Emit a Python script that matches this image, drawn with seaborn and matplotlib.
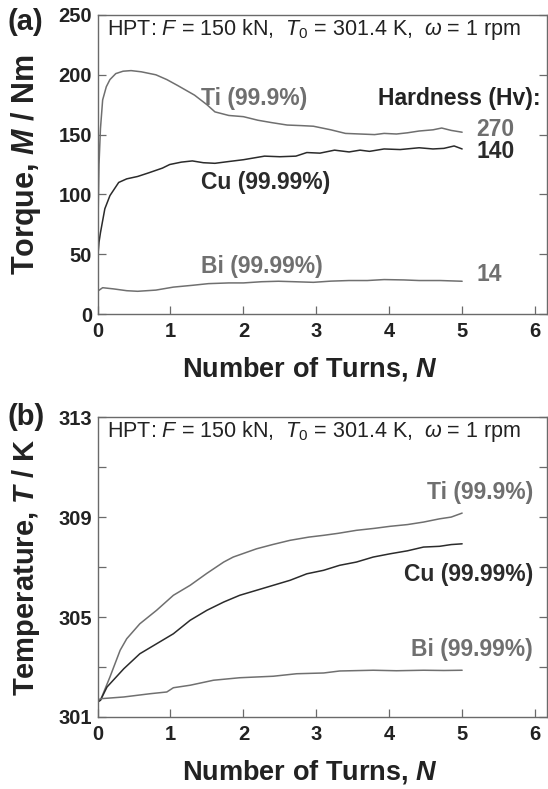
import matplotlib
matplotlib.use("Agg")
import matplotlib.pyplot as plt
import seaborn as sns
import pandas as pd

# ---- panel (a): torque vs number of turns ----
turns_ti_a = [0, 0.01, 0.02, 0.04, 0.07, 0.12, 0.17, 0.25, 0.35, 0.46, 0.6, 0.8, 0.95, 1.1,
              1.33, 1.5, 1.61, 1.8, 2.0, 2.2, 2.39, 2.6, 2.8, 2.96, 3.2, 3.4, 3.6, 3.8, 3.93,
              4.1, 4.25, 4.41, 4.6, 4.72, 4.85, 5.0]
torque_ti = [45, 90, 125, 155, 179, 190, 196, 201, 203, 203.5, 202.5, 200, 196, 191,
             183, 175, 169, 166, 165, 162, 160, 158, 157.5, 157, 154, 151, 150.5, 150, 151,
             150.5, 151.5, 153, 154, 155.5, 153.5, 152]

turns_cu_a = [0, 0.02, 0.04, 0.07, 0.1, 0.17, 0.29, 0.4, 0.55, 0.7, 0.89, 0.99, 1.15, 1.3,
              1.45, 1.61, 1.8, 2.0, 2.29, 2.5, 2.72, 2.87, 3.05, 3.25, 3.45, 3.6, 3.73, 3.93,
              4.15, 4.41, 4.6, 4.75, 4.89, 5.0]
torque_cu = [45, 60, 68, 78, 88, 99, 110, 113, 115, 118, 122, 125, 127, 128,
             126.5, 126, 127.5, 129, 132, 131.5, 132, 135, 134.5, 137, 135.5, 137, 136, 138,
             137.5, 139, 138, 138.5, 140.5, 138]

turns_bi_a = [0, 0.07, 0.22, 0.4, 0.55, 0.8, 1.04, 1.3, 1.52, 1.8, 2.0, 2.25, 2.48, 2.7,
              2.96, 3.2, 3.45, 3.7, 3.93, 4.2, 4.41, 4.7, 5.0]
torque_bi = [19, 22, 21, 19.5, 19, 20, 22.5, 24, 25.4, 26, 26, 27, 27.4, 27,
             26.5, 27.5, 28, 28, 28.8, 28.5, 28, 28, 27.4]

# ---- panel (b): temperature vs number of turns ----
turns_ti_b = [0, 0.04, 0.17, 0.31, 0.4, 0.58, 0.81, 1.04, 1.27, 1.5, 1.73, 1.86, 2.18,
              2.4, 2.64, 2.9, 3.1, 3.3, 3.55, 3.8, 4.01, 4.25, 4.47, 4.69, 4.85, 5.0]
temp_ti = [301.6, 301.67, 302.6, 303.67, 304.13, 304.73, 305.27, 305.87, 306.27, 306.75,
           307.2, 307.4, 307.73, 307.9, 308.07, 308.2, 308.27, 308.35, 308.47, 308.55,
           308.63, 308.7, 308.8, 308.93, 309.0, 309.16]

turns_cu_b = [0, 0.04, 0.13, 0.36, 0.58, 0.81, 1.04, 1.27, 1.5, 1.73, 1.95, 2.18, 2.41,
              2.64, 2.87, 3.1, 3.32, 3.55, 3.78, 4.01, 4.25, 4.47, 4.69, 4.85, 5.0]
temp_cu = [301.6, 301.67, 302.2, 302.93, 303.53, 303.93, 304.33, 304.87, 305.27, 305.6,
           305.87, 306.07, 306.27, 306.47, 306.73, 306.87, 307.07, 307.2, 307.4, 307.53,
           307.65, 307.8, 307.83, 307.9, 307.93]

turns_bi_b = [0, 0.04, 0.36, 0.72, 0.95, 1.04, 1.27, 1.59, 1.95, 2.41, 2.73, 3.1, 3.32,
              3.78, 4.1, 4.47, 4.75, 5.0]
temp_bi = [301.65, 301.73, 301.8, 301.93, 302.0, 302.17, 302.27, 302.47, 302.57, 302.63,
           302.73, 302.76, 302.84, 302.87, 302.85, 302.87, 302.86, 302.87]

torque_ticks = [0, 50, 100, 150, 200, 250]
temp_ticks = [301, 303, 305, 307, 309, 311, 313]
temp_tick_labels = ["301", "", "305", "", "309", "", "313"]
turn_ticks = [0, 1, 2, 3, 4, 5, 6]

hardness_labels = ["270", "140", "14"]
hardness_pos = [154, 136, 33]

TI_COLOR = "#6f6f6f"
CU_COLOR = "#2b2b2b"
BI_COLOR = "#707070"
TXT = "#222222"

sns.set_theme(style="ticks")
plt.rcParams["font.family"] = ["Liberation Sans", "DejaVu Sans"]
plt.rcParams["mathtext.fontset"] = "custom"
plt.rcParams["mathtext.rm"] = "Liberation Sans"
plt.rcParams["mathtext.it"] = "Liberation Sans:italic"
plt.rcParams["mathtext.bf"] = "Liberation Sans:bold"
plt.rcParams["mathtext.bfit"] = "Liberation Sans:italic:bold"

fig = plt.figure(figsize=(5.48, 7.89), dpi=100)
ax_a = fig.add_axes([0.178, 0.602, 0.821, 0.379])
ax_b = fig.add_axes([0.178, 0.0913, 0.821, 0.380])


def draw(ax, x, y, color):
    df = pd.DataFrame({"x": x, "y": y})
    sns.lineplot(data=df, x="x", y="y", ax=ax, color=color, lw=1.1,
                 estimator=None, sort=False)


draw(ax_a, turns_ti_a, torque_ti, TI_COLOR)
draw(ax_a, turns_cu_a, torque_cu, CU_COLOR)
draw(ax_a, turns_bi_a, torque_bi, BI_COLOR)

draw(ax_b, turns_ti_b, temp_ti, TI_COLOR)
draw(ax_b, turns_cu_b, temp_cu, CU_COLOR)
draw(ax_b, turns_bi_b, temp_bi, BI_COLOR)

hpt = r"HPT: $\mathit{F}$ = 150 kN,  $\mathit{T_0}$ = 301.4 K,  $\omega$ = 1 rpm"

for ax in (ax_a, ax_b):
    ax.set_xlim(0, 6.17)
    ax.set_xticks(turn_ticks)
    ax.set_xticklabels([str(t) for t in turn_ticks])
    for side in ax.spines.values():
        side.set_color("#6a6a6a")
        side.set_linewidth(1.0)
    ax.tick_params(axis="both", direction="in", length=6, width=0.9,
                   color="#6a6a6a", labelsize=14.5, labelcolor=TXT)
    ax.tick_params(axis="x", pad=6)
    ax.tick_params(axis="y", right=True, labelright=False, pad=4)
    ax.set_xlabel(r"Number of Turns, $\mathbfit{N}$", fontsize=19.5,
                  fontweight="bold", color=TXT, va="center")
    ax.xaxis.set_label_coords(0.472, -0.185)
    ax.text(0.022, 0.952, hpt, transform=ax.transAxes, fontsize=15.5,
            color=TXT, va="center", ha="left")

ax_a.set_ylim(0, 250)
ax_a.set_yticks(torque_ticks)
ax_a.set_yticklabels([str(t) for t in torque_ticks])
ax_a.set_ylabel(r"Torque, $\mathbfit{M}$ / Nm", fontsize=22, fontweight="bold",
                color=TXT, va="center")

ax_b.set_ylim(301, 313)
ax_b.set_yticks(temp_ticks)
ax_b.set_yticklabels(temp_tick_labels)
ax_b.set_ylabel(r"Temperature, $\mathbfit{T}$ / K", fontsize=21, fontweight="bold",
                color=TXT, va="center")

for ax in (ax_a, ax_b):
    ax.yaxis.set_label_coords(-0.16, 0.5)
    for lab in ax.get_xticklabels() + ax.get_yticklabels():
        lab.set_fontweight("bold")

lab_kw = dict(fontsize=16.5, fontweight="bold", va="center")
ax_a.text(1.42, 180, "Ti (99.9%)", color=TI_COLOR, ha="left", **lab_kw)
ax_a.text(1.42, 110, "Cu (99.99%)", color=CU_COLOR, ha="left", **lab_kw)
ax_a.text(1.42, 40, "Bi (99.99%)", color=BI_COLOR, ha="left", **lab_kw)
ax_a.text(6.08, 180, "Hardness (Hv):", color=TXT, ha="right", **lab_kw)
for txt, pos, col in zip(hardness_labels, hardness_pos, [TI_COLOR, CU_COLOR, BI_COLOR]):
    ax_a.text(5.2, pos, txt, color=col, ha="left", **lab_kw)

ax_b.text(5.97, 310.0, "Ti (99.9%)", color=TI_COLOR, ha="right", **lab_kw)
ax_b.text(5.97, 306.7, "Cu (99.99%)", color=CU_COLOR, ha="right", **lab_kw)
ax_b.text(5.97, 303.7, "Bi (99.99%)", color=BI_COLOR, ha="right", **lab_kw)

fig.text(0.013, 0.972, "(a)", fontsize=21, fontweight="bold", color=TXT, va="center")
fig.text(0.013, 0.472, "(b)", fontsize=21, fontweight="bold", color=TXT, va="center")

fig.savefig("out.png", dpi=100)
